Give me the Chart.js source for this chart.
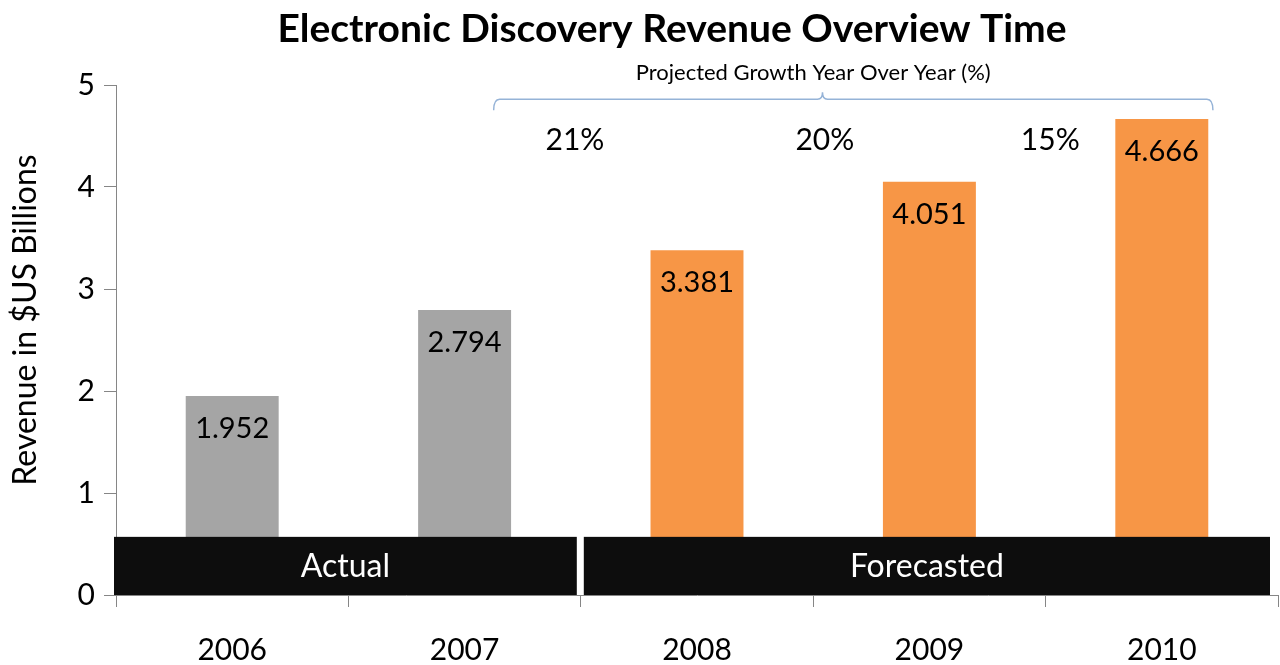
<!DOCTYPE html>
<html>
<head>
<meta charset="utf-8">
<script src="https://cdn.jsdelivr.net/npm/chart.js@4/dist/chart.umd.min.js"></script>
<style>
  html, body { margin: 0; padding: 0; background: #fff; }
  #wrap { width: 1280px; height: 665px; }
</style>
</head>
<body>
<div id="wrap"><canvas id="myChart"></canvas></div>
<script>
const FONT = "Lato, 'Open Sans', sans-serif";

const chartTitle = 'Electronic Discovery Revenue Overview Time';
const yTitle = 'Revenue in $US Billions';
const years = ['2006', '2007', '2008', '2009', '2010'];
const revenue = [1.952, 2.794, 3.381, 4.051, 4.666];
const barColors = ['#A5A5A5', '#A5A5A5', '#F79646', '#F79646', '#F79646'];
const yTicks = [0, 1, 2, 3, 4, 5];

// black boxes along the bottom: label, first and last category index
const groupLabels = ['Actual', 'Forecasted'];
const groupFirst = [0, 2];
const groupLast = [1, 4];

// growth rates shown between the years
const growthLabels = ['21%', '20%', '15%'];
const growthAt = [1.475, 2.55, 3.52];
const bracketLabel = 'Projected Growth Year Over Year (%)';

const overlay = {
    id: 'overlay',
    afterDatasetsDraw(chart) {
        const ctx = chart.ctx;
        const x = chart.scales.x;
        const y = chart.scales.y;
        const meta = chart.getDatasetMeta(0);
        ctx.save();
        ctx.textAlign = 'center';
        ctx.textBaseline = 'middle';

        // title and y axis title (drawn here so they sit off-centre like the original)
        ctx.fillStyle = '#000';
        ctx.font = 'bold 39px ' + FONT;
        ctx.fillText(chartTitle, 672, 29);
        ctx.save();
        ctx.translate(26, 320);
        ctx.rotate(-Math.PI / 2);
        ctx.font = '32px ' + FONT;
        ctx.fillText(yTitle, 0, 0);
        ctx.restore();

        // value labels inside the top of each bar
        ctx.font = '29px ' + FONT;
        meta.data.forEach((bar, i) => {
            ctx.fillText(revenue[i].toFixed(3), bar.x, bar.y + 33);
        });

        // Actual / Forecasted boxes
        const half = (x.getPixelForValue(1) - x.getPixelForValue(0)) / 2;
        const boxTop = y.getPixelForValue(0.57);
        const boxBottom = y.getPixelForValue(0);
        for (let g = 0; g < groupLabels.length; g++) {
            let x0 = x.getPixelForValue(groupFirst[g]) - half + (g === 0 ? -2 : 3);
            let x1 = x.getPixelForValue(groupLast[g]) + half - (g === 0 ? 4 : 8);
            ctx.fillStyle = '#0D0D0D';
            ctx.fillRect(x0, boxTop, x1 - x0, boxBottom - boxTop);
            ctx.fillStyle = '#fff';
            ctx.font = '32px ' + FONT;
            ctx.fillText(groupLabels[g], (x0 + x1) / 2, (boxTop + boxBottom) / 2 + 1);
        }

        // growth percentages
        ctx.fillStyle = '#000';
        ctx.font = '30px ' + FONT;
        for (let i = 0; i < growthLabels.length; i++) {
            ctx.fillText(growthLabels[i], x.getPixelForValue(growthAt[i]), y.getPixelForValue(4.46));
        }

        // bracket over the forecast years
        const bx0 = x.getPixelForValue(1.125);
        const bx1 = x.getPixelForValue(4.22);
        const bmid = x.getPixelForValue(2.54);
        const by = y.getPixelForValue(4.86);
        ctx.strokeStyle = '#95B3D7';
        ctx.lineWidth = 1.5;
        ctx.beginPath();
        ctx.moveTo(bx0, by + 11);
        ctx.quadraticCurveTo(bx0, by, bx0 + 6, by);
        ctx.lineTo(bmid - 5, by);
        ctx.quadraticCurveTo(bmid, by, bmid, by - 7);
        ctx.quadraticCurveTo(bmid, by, bmid + 5, by);
        ctx.lineTo(bx1 - 6, by);
        ctx.quadraticCurveTo(bx1, by, bx1, by + 11);
        ctx.stroke();

        ctx.fillStyle = '#000';
        ctx.font = '22px ' + FONT;
        ctx.fillText(bracketLabel, x.getPixelForValue(2.5), y.getPixelForValue(5.12));

        ctx.restore();
    }
};

const data = {
    labels: years,
    datasets: [{
        data: revenue,
        backgroundColor: barColors,
        barPercentage: 0.4,
        categoryPercentage: 1.0
    }]
};

const config = {
    type: 'bar',
    data: data,
    options: {
        responsive: true,
        maintainAspectRatio: false,
        animation: false,
        layout: { padding: { left: 0, right: 2, top: 85, bottom: 0 } },
        plugins: {
            legend: { display: false },
            tooltip: { enabled: false },
            title: { display: false }
        },
        scales: {
            x: {
                afterFit: s => { s.height = 70; },
                grid: { drawOnChartArea: false, drawTicks: true, tickLength: 12, color: '#868686' },
                border: { color: '#868686' },
                ticks: { color: '#000', padding: 25, font: { family: FONT, size: 30 } }
            },
            y: {
                min: 0,
                max: 5,
                afterBuildTicks: s => { s.ticks = yTicks.map(v => ({ value: v })); },
                afterFit: s => { s.width = 116; },
                grid: { drawOnChartArea: false, drawTicks: true, tickLength: 12, color: '#868686' },
                border: { color: '#868686' },
                ticks: { color: '#000', padding: 9, font: { family: FONT, size: 30 } }
            }
        }
    },
    plugins: [overlay]
};

new Chart(document.getElementById('myChart'), config);
</script>
</body>
</html>
